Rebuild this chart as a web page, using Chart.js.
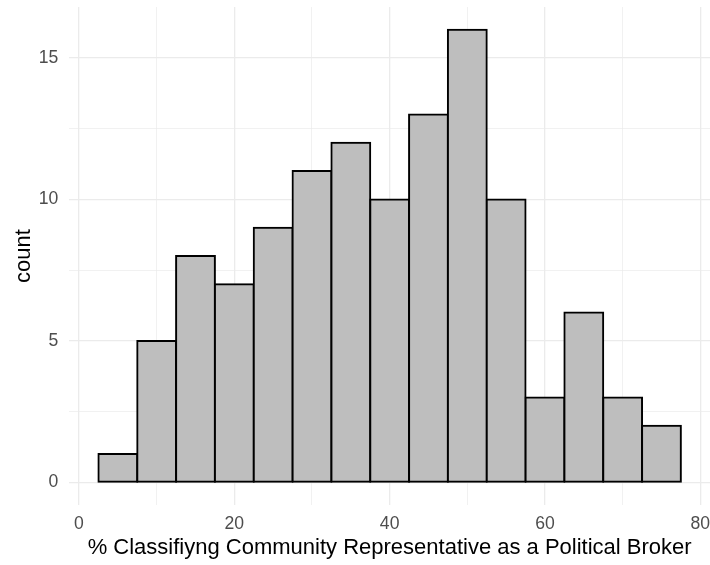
<!DOCTYPE html>
<html lang="en">
<head>
  <meta charset="UTF-8">
  <title>Histogram</title>
  <script src="https://cdn.jsdelivr.net/npm/chart.js"></script>
  <style>
    html, body { margin: 0; padding: 0; background: #fff; }
    #wrap { width: 710px; height: 565px; }
  </style>
</head>
<body>
<div id="wrap"><canvas id="hist" width="710" height="565"></canvas></div>
<script>
// bin centres (binwidth 5) and counts
const binCenters = [5, 10, 15, 20, 25, 30, 35, 40, 45, 50, 55, 60, 65, 70, 75];
const counts = [1, 5, 8, 7, 9, 11, 12, 10, 13, 16, 10, 3, 6, 3, 2];
const xTickLabels = [0, 20, 40, 60, 80];
const yTickLabels = [0, 5, 10, 15];

const gridMajor = '#ebebeb';
const isMajor = (v, list) => list.includes(v);
const gridWidth = list => ctx => (ctx.tick && isMajor(ctx.tick.value, list)) ? 1.3 : 0.7;

new Chart(document.getElementById('hist'), {
  type: 'bar',
  data: {
    datasets: [{
      data: binCenters.map((x, i) => ({ x: x, y: counts[i] })),
      backgroundColor: '#bebebe',
      borderColor: '#000',
      borderWidth: 2,
      inflateAmount: 1,   // centre the outline on the bin edges like ggplot
      borderSkipped: false,
      barPercentage: 1,
      categoryPercentage: 1
    }]
  },
  options: {
    responsive: false,
    animation: false,
    layout: { padding: { top: 7, right: 0, left: 11, bottom: 4 } },
    plugins: { legend: { display: false }, tooltip: { enabled: false } },
    scales: {
      x: {
        type: 'linear',
        min: -1.25,
        max: 81.25,
        offset: false,
        afterFit: s => {
          s.height = 56;
          s.paddingLeft = 0;
          s.paddingRight = 0;
        },
        border: { display: false },
        grid: {
          offset: false,
          drawTicks: false,
          color: gridMajor,
          lineWidth: gridWidth(xTickLabels)
        },
        ticks: {
          stepSize: 10,
          includeBounds: false,
          padding: 9,
          color: '#4d4d4d',
          font: { family: 'Liberation Sans', size: 17.6 },
          callback: v => isMajor(v, xTickLabels) ? v : ''
        },
        title: {
          display: true,
          text: '% Classifiyng Community Representative as a Political Broker',
          color: '#000',
          font: { family: 'Liberation Sans', size: 22 },
          padding: { top: 0, bottom: 0 }
        }
      },
      y: {
        min: -0.8,
        max: 16.8,
        afterFit: s => {
          s.width = 58.3;
          s.paddingTop = 0;
          s.paddingBottom = 0;
        },
        border: { display: false },
        grid: {
          drawTicks: false,
          color: gridMajor,
          lineWidth: gridWidth(yTickLabels)
        },
        ticks: {
          stepSize: 2.5,
          includeBounds: false,
          padding: 11,
          color: '#4d4d4d',
          font: { family: 'Liberation Sans', size: 17.6 },
          callback: v => isMajor(v, yTickLabels) ? v : ''
        },
        title: {
          display: true,
          text: 'count',
          color: '#000',
          font: { family: 'Liberation Sans', size: 22 },
          padding: { top: 0, bottom: 0 }
        }
      }
    }
  }
});
</script>
</body>
</html>
